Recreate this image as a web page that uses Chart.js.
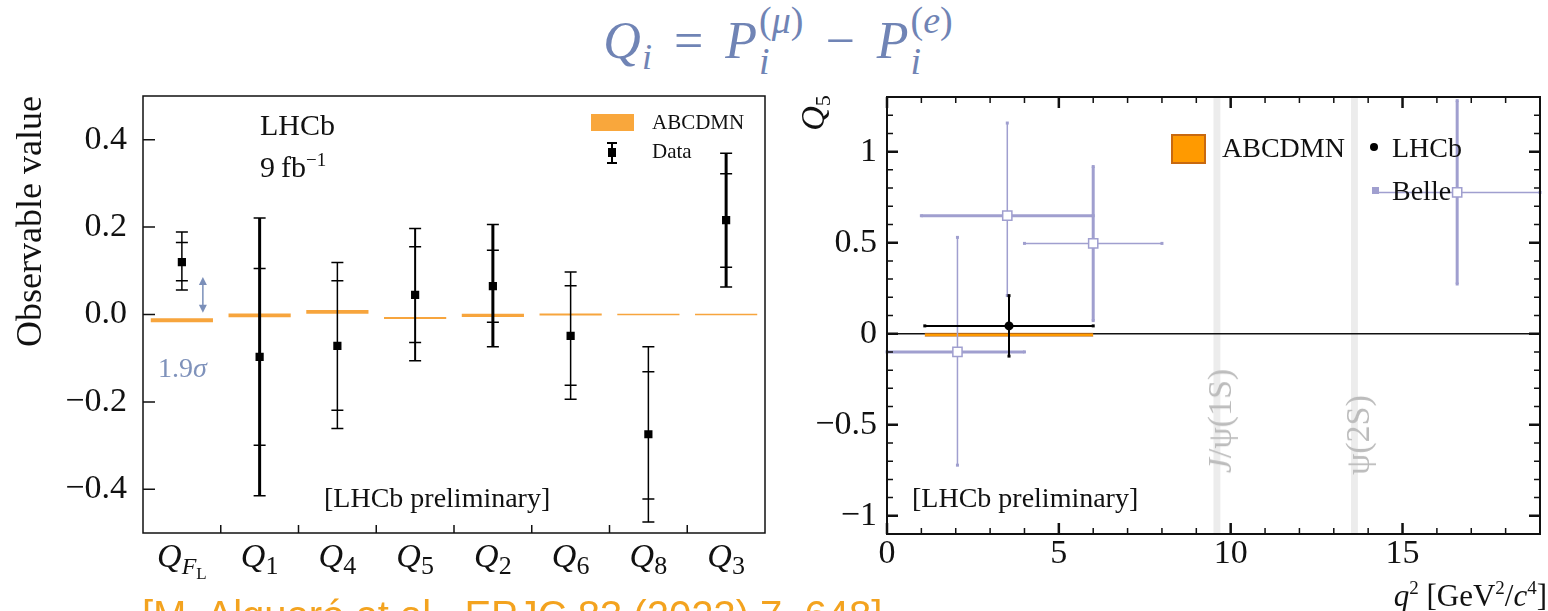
<!DOCTYPE html>
<html lang="en">
<head>
<meta charset="UTF-8" />
<title>Q_i = P_i(mu) - P_i(e)</title>
<script src="https://cdn.jsdelivr.net/npm/chart.js"></script>
<style>
  body {
    margin: 0;
    width: 1548px;
    height: 611px;
    overflow: hidden;
    position: relative;
    background: #fff;
    font-family: "Liberation Serif", serif;
    color: #111;
  }
  .wrap { position: absolute; top: 0; height: 611px; }
  #leftWrap { left: 0; width: 780px; }
  #rightWrap { left: 780px; width: 768px; }
  .txt { position: absolute; white-space: nowrap; line-height: 1; }
  #formula { left: 4px; width: 1548px; text-align: center; top: 15px; font-size: 52px; color: #7084b5; }
  #formula .op { margin: 0 22px; }
  #formula .sb1 { font-size: 36px; vertical-align: -11px; margin-left: 1px; }
  #formula .ss { position: relative; display: inline-block; font-size: 38px; line-height: 1; margin-left: 2px; }
  #formula .sp { position: relative; top: -25px; }
  #formula .sb { position: absolute; left: 0; top: 16px; }
  #cite { left: 142px; top: 595px; font-family: "Liberation Sans", sans-serif; font-size: 40px; color: #f3a31f; }
  .rot { transform: translate(-50%, -50%) rotate(-90deg); }
  .sw { position: absolute; }
</style>
</head>
<body>

<div id="formula" class="txt"><i>Q</i><span class="sb1"><i>i</i></span><span class="op">=</span><i>P</i><span class="ss"><span class="sp">(<i>μ</i>)</span><span class="sb"><i>i</i></span></span><span class="op">−</span><i>P</i><span class="ss"><span class="sp">(<i>e</i>)</span><span class="sb"><i>i</i></span></span></div>

<div class="wrap" id="leftWrap"><canvas id="leftChart"></canvas></div>
<div class="wrap" id="rightWrap"><canvas id="rightChart"></canvas></div>

<!-- left panel texts -->
<div class="txt" style="left:260px;top:110px;font-size:30px">LHCb</div>
<div class="txt" style="left:260px;top:150px;font-size:30px">9&#8201;fb<sup style="font-size:19px;vertical-align:11px">−1</sup></div>
<div class="txt" style="left:158px;top:354px;font-size:28px;color:#7f92bb">1.9<i>σ</i></div>
<div class="txt" style="left:324px;top:484px;font-size:28px">[LHCb preliminary]</div>
<div class="sw" style="left:591px;top:114px;width:43px;height:17px;background:#f9a73c"></div>
<div class="txt" style="left:652px;top:112px;font-size:21px">ABCDMN</div>
<div class="sw" style="left:611px;top:142px;width:2px;height:22px;background:#000"></div>
<div class="sw" style="left:607px;top:142px;width:10px;height:2px;background:#000"></div>
<div class="sw" style="left:607px;top:162px;width:10px;height:2px;background:#000"></div>
<div class="sw" style="left:608px;top:148px;width:8px;height:9px;background:#000"></div>
<div class="txt" style="left:652px;top:141px;font-size:21px">Data</div>

<!-- right panel texts -->
<div class="txt rot" style="left:815px;top:113px;font-size:34px"><i>Q</i><sub style="font-size:22px;vertical-align:-6px">5</sub></div>
<div class="txt" style="right:1px;top:578px;font-size:31px"><i>q</i><sup style="font-size:19px;vertical-align:12px">2</sup> [GeV<sup style="font-size:19px;vertical-align:12px">2</sup>/<i>c</i><sup style="font-size:19px;vertical-align:12px">4</sup>]</div>
<div class="txt rot" style="left:1220px;top:421px;font-size:34px;color:#bcbcbc"><i>J</i>/ψ(1S)</div>
<div class="txt rot" style="left:1358px;top:435px;font-size:34px;color:#bcbcbc">ψ(2S)</div>
<div class="txt" style="left:912px;top:484px;font-size:28px">[LHCb preliminary]</div>
<div class="sw" style="left:1171px;top:134px;width:31px;height:26px;background:#ff9a00;border:2px solid #c8690f"></div>
<div class="txt" style="left:1222px;top:134px;font-size:28px">ABCDMN</div>
<div class="sw" style="left:1370px;top:143px;width:8px;height:8px;border-radius:50%;background:#000"></div>
<div class="txt" style="left:1392px;top:134px;font-size:28px">LHCb</div>
<div class="sw" style="left:1372px;top:187px;width:7px;height:7px;background:#a09fcf"></div>
<div class="txt" style="left:1392px;top:177px;font-size:28px">Belle</div>

<div id="cite" class="txt">[M. Algueró et al., EPJC 83 (2023) 7, 648]</div>

<script>
// ---------- left panel: Q_i observables ----------
const observables = ['FL', '1', '4', '5', '2', '6', '8', '3'];   // subscript of Q
const dataValue = [0.120, -0.097, -0.072, 0.045, 0.065, -0.049, -0.274, 0.216];
const statHigh  = [0.165, 0.105, 0.077, 0.155, 0.147, 0.066, -0.131, 0.322];
const statLow   = [0.077, -0.299, -0.219, -0.064, -0.018, -0.162, -0.422, 0.108];
const totHigh   = [0.189, 0.221, 0.119, 0.197, 0.206, 0.097, -0.074, 0.369];
const totLow    = [0.056, -0.415, -0.261, -0.106, -0.074, -0.194, -0.475, 0.063];
const abcdmnLow  = [-0.0175, -0.0065, 0.0015, -0.0105, -0.006, -0.0025, -0.002, -0.0015];
const abcdmnHigh = [-0.0085, 0.0025, 0.0105, -0.0055, 0.002, 0.0025, 0.002, 0.0015];
const sigmaArrow = [0.004, 0.086];
const yTicksLeft = [-0.4, -0.2, 0, 0.2, 0.4];

// ---------- right panel: Q5 vs q2 ----------
const lhcbBin = [1.1, 6.0];
const lhcbQ2 = 3.55;
const lhcbQ5 = [0.043, -0.123, 0.209];        // value, low, high
const abcdmnQ5 = [-0.013, 0.002];              // band low, high over lhcbBin
const belleBinLow  = [0.0, 1.0, 4.0, 14.18];
const belleBinHigh = [4.0, 6.0, 8.0, 19.0];
const belleQ2  = [2.05, 3.5, 6.0, 16.59];
const belleQ5  = [-0.10, 0.648, 0.496, 0.776];
const belleLow  = [-0.722, 0.21, 0.072, 0.273];
const belleHigh = [0.529, 1.157, 0.918, 1.28];
const resonances = [9.6, 13.6];
const xTicksRight = [0, 5, 10, 15];
const yTicksRight = [-1, -0.5, 0, 0.5, 1];

// styles
const errWidthLeft = [1.5, 3, 1.5, 2, 3, 1.5, 1.5, 3];
const belleHWidth = [3, 3, 1.5, 1.5];
const belleVWidth = [1.5, 1.5, 3, 3];
const belleColor = '#a09fcf';
const serif = '"Liberation Serif", serif';
const minus = v => String(v).replace('-', '\u2212');

function frame(lineWidth, marks) {
  return {
    id: 'frame',
    afterDatasetsDraw(chart) {
      const { ctx, chartArea: a } = chart;
      ctx.save();
      ctx.strokeStyle = '#111';
      for (const m of marks) {
        const px = m.pixels(chart.scales[m.axis]);
        ctx.lineWidth = m.width;
        ctx.beginPath();
        for (const p of px) {
          for (const side of m.sides) {
            if (side === 'left') { ctx.moveTo(a.left, p); ctx.lineTo(a.left + m.len, p); }
            if (side === 'right') { ctx.moveTo(a.right, p); ctx.lineTo(a.right - m.len, p); }
            if (side === 'bottom') { ctx.moveTo(p, a.bottom); ctx.lineTo(p, a.bottom - m.len); }
            if (side === 'top') { ctx.moveTo(p, a.top); ctx.lineTo(p, a.top + m.len); }
          }
        }
        ctx.stroke();
      }
      ctx.lineWidth = lineWidth;
      ctx.strokeRect(a.left, a.top, a.right - a.left, a.bottom - a.top);
      ctx.restore();
    }
  };
}

// ----- left chart -----
const leftPlugin = {
  id: 'leftExtras',
  afterDatasetDraw(chart, args) {
    if (args.index !== 0) return; // after ABCDMN bars, before markers
    const { ctx, scales: { x, y } } = chart;
    ctx.save();
    ctx.strokeStyle = '#000';
    observables.forEach((_, i) => {
      const cx = x.getPixelForValue(i);
      ctx.lineWidth = errWidthLeft[i];
      ctx.beginPath();
      ctx.moveTo(cx, y.getPixelForValue(totLow[i]));
      ctx.lineTo(cx, y.getPixelForValue(totHigh[i]));
      ctx.stroke();
      ctx.lineWidth = 1.5;
      ctx.beginPath();
      for (const v of [totLow[i], totHigh[i], statLow[i], statHigh[i]]) {
        const py = y.getPixelForValue(v);
        ctx.moveTo(cx - 6, py);
        ctx.lineTo(cx + 6, py);
      }
      ctx.stroke();
    });
    // 1.9 sigma arrow
    const ax = x.getPixelForValue(0) + 0.27 * (x.getPixelForValue(1) - x.getPixelForValue(0));
    const y1 = y.getPixelForValue(sigmaArrow[1]), y0 = y.getPixelForValue(sigmaArrow[0]);
    ctx.strokeStyle = ctx.fillStyle = '#7b8fb9';
    ctx.lineWidth = 1.5;
    ctx.beginPath(); ctx.moveTo(ax, y1 + 4); ctx.lineTo(ax, y0 - 4); ctx.stroke();
    ctx.beginPath(); ctx.moveTo(ax, y1); ctx.lineTo(ax - 4, y1 + 8); ctx.lineTo(ax + 4, y1 + 8); ctx.fill();
    ctx.beginPath(); ctx.moveTo(ax, y0); ctx.lineTo(ax - 4, y0 - 8); ctx.lineTo(ax + 4, y0 - 8); ctx.fill();
    ctx.restore();
  },
  afterDraw(chart) {
    const { ctx, chartArea: a, scales: { x } } = chart;
    ctx.save();
    ctx.fillStyle = '#111';
    ctx.textBaseline = 'alphabetic';
    const base = a.bottom + 34;
    observables.forEach((sub, i) => {
      const parts = sub === 'FL'
        ? [['Q', 'italic 34px', 0], ['F', 'italic 24px', 7], ['L', '17px', 12]]
        : [['Q', 'italic 34px', 0], [sub, '26px', 7]];
      let w = 0;
      for (const p of parts) { ctx.font = p[1] + ' ' + serif; w += ctx.measureText(p[0]).width; }
      let px = x.getPixelForValue(i) - w / 2;
      for (const p of parts) {
        ctx.font = p[1] + ' ' + serif;
        ctx.fillText(p[0], px, base + p[2]);
        px += ctx.measureText(p[0]).width;
      }
    });
    ctx.restore();
  }
};

new Chart(document.getElementById('leftChart'), {
  type: 'bar',
  data: {
    labels: observables,
    datasets: [{
      label: 'ABCDMN',
      data: observables.map((_, i) => [abcdmnLow[i], abcdmnHigh[i]]),
      backgroundColor: '#f7a53d',
      categoryPercentage: 1,
      barPercentage: 0.8,
      grouped: false,
      order: 2
    }, {
      type: 'line',
      label: 'Data',
      data: dataValue,
      showLine: false,
      pointStyle: 'rect',
      pointRadius: 5.8,
      pointBackgroundColor: '#000',
      pointBorderWidth: 0,
      order: 1
    }]
  },
  options: {
    responsive: true,
    maintainAspectRatio: false,
    animation: false,
    events: [],
    layout: { padding: { top: 96, right: 15 } },
    plugins: { legend: { display: false }, tooltip: { enabled: false } },
    scales: {
      x: {
        grid: { display: false, drawTicks: false },
        border: { display: false },
        ticks: { display: false },
        afterFit: s => { s.height = 78; }
      },
      y: {
        min: -0.5, max: 0.5,
        afterBuildTicks: s => { s.ticks = yTicksLeft.map(v => ({ value: v })); },
        grid: { display: false, drawTicks: false },
        border: { display: false },
        ticks: {
          padding: 16, color: '#111',
          font: { family: serif, size: 34 },
          callback: v => minus(v.toFixed(1))
        },
        title: {
          display: true, text: 'Observable value', align: 'end', color: '#111',
          font: { family: serif, size: 36 }, padding: { top: 10, bottom: 0 }
        },
        afterFit: s => { s.width = 143; }
      }
    }
  },
  plugins: [leftPlugin, frame(1.5, [
    { axis: 'y', sides: ['left'], len: 12, width: 1.5, pixels: s => yTicksLeft.map(v => s.getPixelForValue(v)) },
    { axis: 'x', sides: ['bottom'], len: 8, width: 1.5,
      pixels: s => observables.slice(1).map((_, i) => (s.getPixelForValue(i) + s.getPixelForValue(i + 1)) / 2) }
  ])]
});

// ----- right chart -----
const yMinorRight = [], xMinorRight = [];
for (let k = -11; k <= 13; k++) if (k % 5 !== 0) yMinorRight.push(k / 10);
for (let k = 1; k <= 19; k++) if (k % 5 !== 0) xMinorRight.push(k);

const rightPlugin = {
  id: 'rightExtras',
  beforeDatasetsDraw(chart) {
    const { ctx, chartArea: a, scales: { x, y } } = chart;
    ctx.save();
    ctx.fillStyle = '#ececec';
    for (const r of resonances) {
      const l = x.getPixelForValue(r - 0.1), rr = x.getPixelForValue(r + 0.1);
      ctx.fillRect(l, a.top, rr - l, a.bottom - a.top);
    }
    ctx.strokeStyle = '#111';
    ctx.lineWidth = 1.5;
    ctx.beginPath();
    ctx.moveTo(a.left, y.getPixelForValue(0));
    ctx.lineTo(a.right, y.getPixelForValue(0));
    ctx.stroke();
    ctx.restore();
  },
  beforeDatasetDraw(chart, args) {
    if (args.index !== 2) return; // error bars go under the markers
    const { ctx, scales: { x, y } } = chart;
    const seg = (x0, y0, x1, y1, w, col) => {
      const p0 = [x.getPixelForValue(x0), y.getPixelForValue(y0)];
      const p1 = [x.getPixelForValue(x1), y.getPixelForValue(y1)];
      ctx.strokeStyle = ctx.fillStyle = col;
      ctx.lineWidth = w;
      ctx.beginPath(); ctx.moveTo(p0[0], p0[1]); ctx.lineTo(p1[0], p1[1]); ctx.stroke();
      ctx.fillRect(p0[0] - 1.5, p0[1] - 1.5, 3, 3);
      ctx.fillRect(p1[0] - 1.5, p1[1] - 1.5, 3, 3);
    };
    ctx.save();
    belleQ2.forEach((q, i) => {
      seg(belleBinLow[i], belleQ5[i], belleBinHigh[i], belleQ5[i], belleHWidth[i], belleColor);
      seg(q, belleLow[i], q, belleHigh[i], belleVWidth[i], belleColor);
    });
    seg(lhcbBin[0], lhcbQ5[0], lhcbBin[1], lhcbQ5[0], 2, '#000');
    seg(lhcbQ2, lhcbQ5[1], lhcbQ2, lhcbQ5[2], 2, '#000');
    ctx.restore();
  }
};

new Chart(document.getElementById('rightChart'), {
  type: 'scatter',
  data: {
    datasets: [{
      type: 'line',
      label: 'ABCDMN',
      data: lhcbBin.map(q => ({ x: q, y: abcdmnQ5[1] })),
      fill: '+1',
      backgroundColor: '#ff9a00',
      borderColor: '#b8691a',
      borderWidth: 1,
      pointRadius: 0,
      order: 3
    }, {
      type: 'line',
      label: 'ABCDMN low',
      data: lhcbBin.map(q => ({ x: q, y: abcdmnQ5[0] })),
      borderColor: '#b8691a',
      borderWidth: 1,
      pointRadius: 0,
      order: 3
    }, {
      label: 'Belle',
      data: belleQ2.map((q, i) => ({ x: q, y: belleQ5[i] })),
      pointStyle: 'rect',
      pointRadius: 6.5,
      pointBackgroundColor: '#fff',
      pointBorderColor: belleColor,
      pointBorderWidth: 1.5,
      order: 1
    }, {
      label: 'LHCb',
      data: [{ x: lhcbQ2, y: lhcbQ5[0] }],
      pointStyle: 'circle',
      pointRadius: 4.5,
      pointBackgroundColor: '#000',
      pointBorderWidth: 0,
      order: 0
    }]
  },
  options: {
    responsive: true,
    maintainAspectRatio: false,
    animation: false,
    events: [],
    layout: { padding: { top: 97, right: 1 } },
    plugins: { legend: { display: false }, tooltip: { enabled: false } },
    scales: {
      x: {
        type: 'linear', min: 0, max: 19,
        afterBuildTicks: s => { s.ticks = xTicksRight.map(v => ({ value: v })); },
        grid: { display: false, drawTicks: false },
        border: { display: false },
        ticks: { padding: 0, color: '#111', maxRotation: 0, font: { family: serif, size: 34 }, callback: v => minus(v) },
        afterFit: s => { s.height = 77; }
      },
      y: {
        min: -1.1, max: 1.3,
        afterBuildTicks: s => { s.ticks = yTicksRight.map(v => ({ value: v })); },
        grid: { display: false, drawTicks: false },
        border: { display: false },
        ticks: { padding: 10, color: '#111', font: { family: serif, size: 34 }, callback: v => minus(v) },
        afterFit: s => { s.width = 107; }
      }
    }
  },
  plugins: [rightPlugin, frame(2, [
    { axis: 'y', sides: ['left', 'right'], len: 11, width: 2.5, pixels: s => yTicksRight.map(v => s.getPixelForValue(v)) },
    { axis: 'y', sides: ['left', 'right'], len: 6, width: 1.5, pixels: s => yMinorRight.map(v => s.getPixelForValue(v)) },
    { axis: 'x', sides: ['bottom', 'top'], len: 11, width: 2.5, pixels: s => xTicksRight.map(v => s.getPixelForValue(v)) },
    { axis: 'x', sides: ['bottom', 'top'], len: 6, width: 1.5, pixels: s => xMinorRight.map(v => s.getPixelForValue(v)) }
  ])]
});
</script>
</body>
</html>
